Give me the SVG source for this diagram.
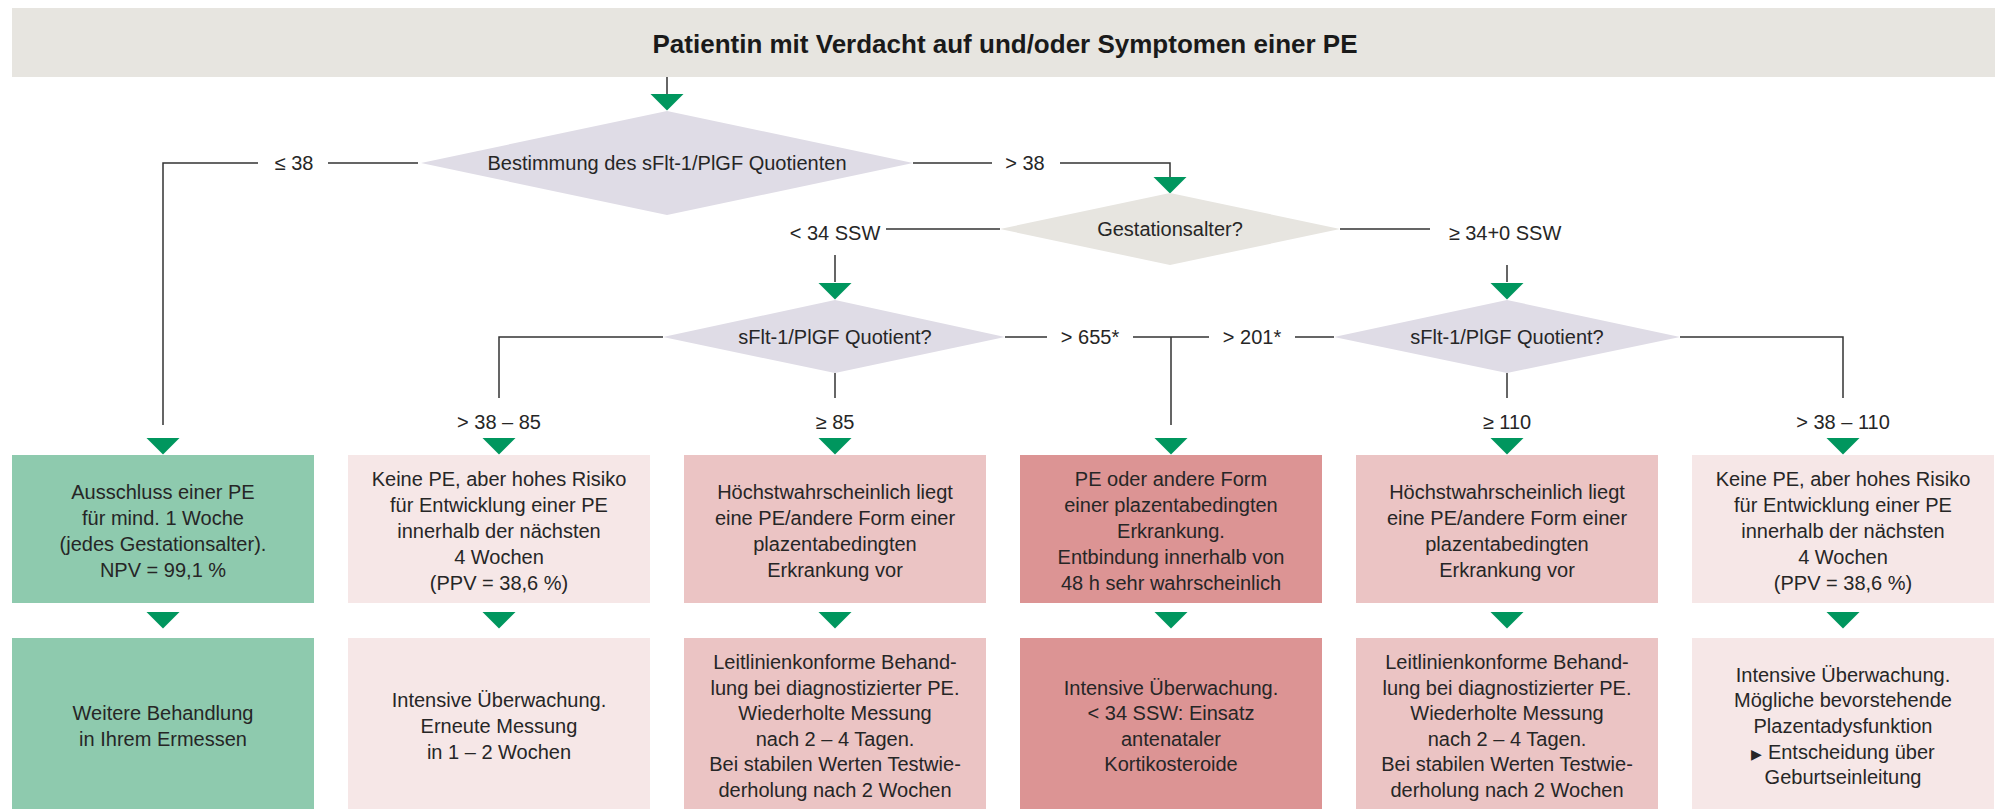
<svg xmlns="http://www.w3.org/2000/svg" width="1996" height="809" viewBox="0 0 1996 809">
<style>
text{font-family:"Liberation Sans",Arial,sans-serif;fill:#262626;font-size:20px;text-anchor:middle}
.title{font-size:26px;font-weight:bold;fill:#1a1a1a}
.ln{fill:none;stroke:#333;stroke-width:1.5}
.arr{fill:#00965e}
.gray{fill:#e7e5e0}
.lav{fill:#dfdce6}
.green{fill:#8ecaae}
.lpink{fill:#f6e7e7}
.mpink{fill:#ebc4c4}
.dpink{fill:#dc9494}
</style>
<defs>
<polygon id="ar" class="arr" points="-16.5,0 16.5,0 0,16.5"/>
</defs>

<g id="header">
<rect class="gray" x="12" y="8" width="1983" height="69"/>
<text class="title" x="1005" y="53">Patientin mit Verdacht auf und/oder Symptomen einer PE</text>
</g>

<g id="connectors">
<path class="ln" d="M667,77V94"/>
<path class="ln" d="M418,163H328M258,163H163V425"/>
<path class="ln" d="M913,163H992M1060,163H1170V177"/>
<path class="ln" d="M1000,229H886M835,255V282"/>
<path class="ln" d="M1340,229H1430M1507,265V282"/>
<path class="ln" d="M663,337H499V398"/>
<path class="ln" d="M835,373V398"/>
<path class="ln" d="M1005,337H1047M1133,337H1209M1171,337V425M1295,337H1334"/>
<path class="ln" d="M1507,373V398"/>
<path class="ln" d="M1680,337H1843V398"/>
<text x="294" y="170">≤ 38</text>
<text x="1025" y="170">&gt; 38</text>
<text x="835" y="240">&lt; 34 SSW</text>
<text x="1505" y="240">≥ 34+0 SSW</text>
<text x="499" y="429">&gt; 38 – 85</text>
<text x="835" y="429">≥ 85</text>
<text x="1090" y="344">&gt; 655*</text>
<text x="1252" y="344">&gt; 201*</text>
<text x="1507" y="429">≥ 110</text>
<text x="1843" y="429">&gt; 38 – 110</text>
<use href="#ar" x="667" y="94"/>
<use href="#ar" x="1170" y="177"/>
<use href="#ar" x="835" y="283"/>
<use href="#ar" x="1507" y="283"/>
<use href="#ar" x="163" y="438"/>
<use href="#ar" x="499" y="438"/>
<use href="#ar" x="835" y="438"/>
<use href="#ar" x="1171" y="438"/>
<use href="#ar" x="1507" y="438"/>
<use href="#ar" x="1843" y="438"/>
<use href="#ar" x="163" y="612"/>
<use href="#ar" x="499" y="612"/>
<use href="#ar" x="835" y="612"/>
<use href="#ar" x="1171" y="612"/>
<use href="#ar" x="1507" y="612"/>
<use href="#ar" x="1843" y="612"/>
</g>

<g id="d1">
<polygon class="lav" points="421,163 667,111 913,163 667,215"/>
<text x="667" y="170">Bestimmung des sFlt-1/PlGF Quotienten</text>
</g>
<g id="d2">
<polygon class="gray" points="1000,229 1170,193 1340,229 1170,265"/>
<text x="1170" y="236">Gestationsalter?</text>
</g>
<g id="d3">
<polygon class="lav" points="663,337 835,300 1005,337 835,373"/>
<text x="835" y="344">sFlt-1/PlGF Quotient?</text>
</g>
<g id="d4">
<polygon class="lav" points="1334,337 1507,300 1680,337 1507,373"/>
<text x="1507" y="344">sFlt-1/PlGF Quotient?</text>
</g>

<g id="r1b1">
<rect class="green" x="12" y="455" width="302" height="148"/>
<text x="163" y="499">Ausschluss einer PE</text>
<text x="163" y="525">für mind. 1 Woche</text>
<text x="163" y="551">(jedes Gestationsalter).</text>
<text x="163" y="577">NPV = 99,1 %</text>
</g>
<g id="r1b2">
<rect class="lpink" x="348" y="455" width="302" height="148"/>
<text x="499" y="486">Keine PE, aber hohes Risiko</text>
<text x="499" y="512">für Entwicklung einer PE</text>
<text x="499" y="538">innerhalb der nächsten</text>
<text x="499" y="564">4 Wochen</text>
<text x="499" y="590">(PPV = 38,6 %)</text>
</g>
<g id="r1b3">
<rect class="mpink" x="684" y="455" width="302" height="148"/>
<text x="835" y="499">Höchstwahrscheinlich liegt</text>
<text x="835" y="525">eine PE/andere Form einer</text>
<text x="835" y="551">plazentabedingten</text>
<text x="835" y="577">Erkrankung vor</text>
</g>
<g id="r1b4">
<rect class="dpink" x="1020" y="455" width="302" height="148"/>
<text x="1171" y="486">PE oder andere Form</text>
<text x="1171" y="512">einer plazentabedingten</text>
<text x="1171" y="538">Erkrankung.</text>
<text x="1171" y="564">Entbindung innerhalb von</text>
<text x="1171" y="590">48 h sehr wahrscheinlich</text>
</g>
<g id="r1b5">
<rect class="mpink" x="1356" y="455" width="302" height="148"/>
<text x="1507" y="499">Höchstwahrscheinlich liegt</text>
<text x="1507" y="525">eine PE/andere Form einer</text>
<text x="1507" y="551">plazentabedingten</text>
<text x="1507" y="577">Erkrankung vor</text>
</g>
<g id="r1b6">
<rect class="lpink" x="1692" y="455" width="302" height="148"/>
<text x="1843" y="486">Keine PE, aber hohes Risiko</text>
<text x="1843" y="512">für Entwicklung einer PE</text>
<text x="1843" y="538">innerhalb der nächsten</text>
<text x="1843" y="564">4 Wochen</text>
<text x="1843" y="590">(PPV = 38,6 %)</text>
</g>

<g id="r2b1">
<rect class="green" x="12" y="638" width="302" height="171"/>
<text x="163" y="720">Weitere Behandlung</text>
<text x="163" y="746">in Ihrem Ermessen</text>
</g>
<g id="r2b2">
<rect class="lpink" x="348" y="638" width="302" height="171"/>
<text x="499" y="707">Intensive Überwachung.</text>
<text x="499" y="733">Erneute Messung</text>
<text x="499" y="759">in 1 – 2 Wochen</text>
</g>
<g id="r2b3">
<rect class="mpink" x="684" y="638" width="302" height="171"/>
<text x="835" y="669">Leitlinienkonforme Behand-</text>
<text x="835" y="695">lung bei diagnostizierter PE.</text>
<text x="835" y="720">Wiederholte Messung</text>
<text x="835" y="746">nach 2 – 4 Tagen.</text>
<text x="835" y="771">Bei stabilen Werten Testwie-</text>
<text x="835" y="797">derholung nach 2 Wochen</text>
</g>
<g id="r2b4">
<rect class="dpink" x="1020" y="638" width="302" height="171"/>
<text x="1171" y="695">Intensive Überwachung.</text>
<text x="1171" y="720">&lt; 34 SSW: Einsatz</text>
<text x="1171" y="746">antenataler</text>
<text x="1171" y="771">Kortikosteroide</text>
</g>
<g id="r2b5">
<rect class="mpink" x="1356" y="638" width="302" height="171"/>
<text x="1507" y="669">Leitlinienkonforme Behand-</text>
<text x="1507" y="695">lung bei diagnostizierter PE.</text>
<text x="1507" y="720">Wiederholte Messung</text>
<text x="1507" y="746">nach 2 – 4 Tagen.</text>
<text x="1507" y="771">Bei stabilen Werten Testwie-</text>
<text x="1507" y="797">derholung nach 2 Wochen</text>
</g>
<g id="r2b6">
<rect class="lpink" x="1692" y="638" width="302" height="171"/>
<text x="1843" y="682">Intensive Überwachung.</text>
<text x="1843" y="707">Mögliche bevorstehende</text>
<text x="1843" y="733">Plazentadysfunktion</text>
<text x="1843" y="759"><tspan font-size="14">▶</tspan> Entscheidung über</text>
<text x="1843" y="784">Geburtseinleitung</text>
</g>
</svg>
